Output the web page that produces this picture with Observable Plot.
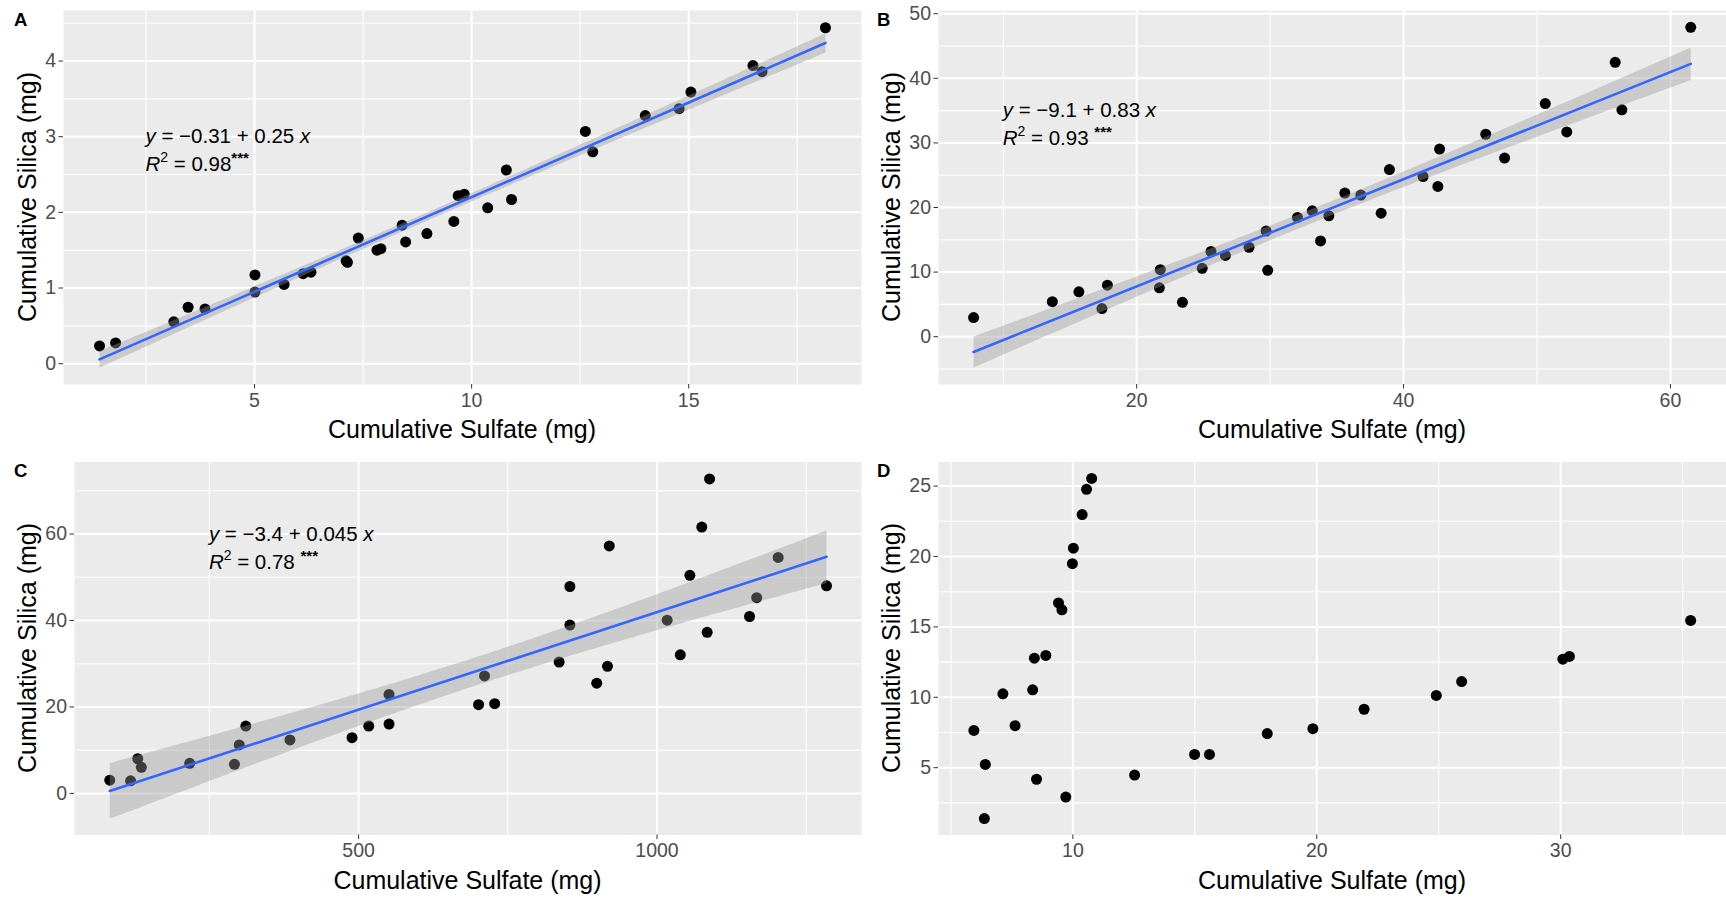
<!DOCTYPE html>
<html><head><meta charset="utf-8">
<script src="https://cdn.jsdelivr.net/npm/d3@7"></script>
<script src="https://cdn.jsdelivr.net/npm/@observablehq/plot@0.6"></script>
<style>
body{margin:0;background:#fff;}
#root{position:relative;width:1726px;height:898px;font-family:"Liberation Sans",Arial,sans-serif;}
.panel{position:absolute;width:863px;height:449px;}
</style></head><body><div id="root"></div>
<script>
// ---- Panel A ----
const aSulfate = [1.43,1.80,3.14,3.47,3.86,5.01,5.01,5.68,6.12,6.30,7.11,7.14,7.39,7.82,7.91,8.40,8.48,8.97,9.59,9.69,9.83,10.37,10.80,10.92,12.62,12.79,14.00,14.78,15.05,16.48,16.69,18.15];
const aSilica  = [0.235,0.275,0.554,0.746,0.724,0.947,1.173,1.047,1.19,1.21,1.36,1.34,1.66,1.50,1.52,1.83,1.61,1.72,1.88,2.22,2.24,2.06,2.56,2.17,3.07,2.80,3.28,3.37,3.59,3.94,3.86,4.44];
// ---- Panel B ----
const bSulfate = [7.78,13.68,15.67,17.40,17.81,21.70,21.77,23.43,24.91,25.57,26.65,28.42,29.70,29.82,32.05,33.16,33.78,34.40,35.60,36.80,38.32,38.94,41.46,42.57,42.70,46.16,47.57,50.62,52.23,55.86,56.36,61.52];
const bSilica  = [2.97,5.42,6.95,4.35,7.98,7.57,10.38,5.32,10.58,13.19,12.58,13.85,16.36,10.28,18.46,19.48,14.83,18.71,22.24,21.93,19.12,25.87,24.80,23.26,29.04,31.34,27.66,36.09,31.70,42.48,35.12,47.90];
// ---- Panel C ----
const cSulfate = [83,118,130,136,217,292,300,311,385,489,517,551,551,701,711,728,836,854,854,899,917,920,1017,1039,1055,1075,1084,1088,1155,1167,1203,1284];
const cSilica  = [3.05,2.90,8.02,6.03,6.95,6.72,11.22,15.57,12.37,12.90,15.57,16.03,22.90,20.53,27.18,20.76,30.38,38.93,47.86,25.50,29.39,57.25,40.08,32.06,50.46,61.60,37.25,72.75,40.92,45.27,54.58,48.02];
// ---- Panel D ----
const dSulfate = [5.94,6.41,6.37,7.13,7.63,8.35,8.42,8.51,8.89,9.41,9.55,9.71,9.98,10.02,10.38,10.56,10.77,12.53,14.99,15.60,17.97,19.84,21.94,24.90,25.94,30.09,30.36,35.33];
const dSilica  = [7.65,5.23,1.39,10.25,7.98,10.53,12.78,4.18,12.97,16.70,16.21,2.91,19.49,20.59,22.98,24.77,25.54,4.48,5.94,5.94,7.42,7.77,9.15,10.13,11.12,12.71,12.90,15.46];

// tick values
const aXTicks = [5,10,15], aYTicks = [0,1,2,3,4];
const bXTicks = [20,40,60], bYTicks = [0,10,20,30,40,50];
const cXTicks = [500,1000], cYTicks = [0,20,40,60];
const dXTicks = [10,20,30], dYTicks = [5,10,15,20,25];
const aXMinor = [2.5,7.5,12.5,17.5], aYMinor = [0.5,1.5,2.5,3.5,4.5];
const bXMinor = [10,30,50], bYMinor = [-5,5,15,25,35,45];
const cXMinor = [250,750,1250], cYMinor = [10,30,50,70];
const dXMinor = [5,15,25,35], dYMinor = [2.5,7.5,12.5,17.5,22.5];

// labels
const panelLetters = ["A","B","C","D"];
const xTitle = "Cumulative Sulfate (mg)";
const yTitle = "Cumulative Silica (mg)";
const eqTexts = ["\u22120.31 + 0.25", "\u22129.1 + 0.83", "\u22123.4 + 0.045"];
const r2Texts = ["0.98", "0.93", "0.78"];
const starSep = ["", " ", " "];
const eqX = [2.5, 10, 250];
const eqY = [3, 35, 60];

const layouts = [
  {left:0,   top:0,   ml:63, mr:2, mt:10,   mb:65,   xd:[0.6,18.98],  yd:[-0.275,4.668], ytx:35.5, xtb:437.5},
  {left:863, top:0,   ml:75, mr:0, mt:10,   mb:65,   xd:[5.15,64.2],  yd:[-7.4,50.5],    ytx:36.5, xtb:437.5},
  {left:0,   top:449, ml:74, mr:2, mt:12.5, mb:63.5, xd:[24,1342.6],  yd:[-9.62,76.66],  ytx:35.5, xtb:440},
  {left:863, top:449, ml:75, mr:0, mt:12.5, mb:63.5, xd:[4.49,36.8],  yd:[0.22,26.71],   ytx:36.5, xtb:440}
];
const series = [
  {x:aSulfate, y:aSilica, xt:aXTicks, yt:aYTicks, xm:aXMinor, ym:aYMinor, fit:true},
  {x:bSulfate, y:bSilica, xt:bXTicks, yt:bYTicks, xm:bXMinor, ym:bYMinor, fit:true},
  {x:cSulfate, y:cSilica, xt:cXTicks, yt:cYTicks, xm:cXMinor, ym:cYMinor, fit:true},
  {x:dSulfate, y:dSilica, xt:dXTicks, yt:dYTicks, xm:dXMinor, ym:dYMinor, fit:false}
];

const FONT = '"Liberation Sans", Arial, sans-serif';
const root = document.getElementById("root");

series.forEach((s, i) => {
  const L = layouts[i];
  const data = s.x.map((x, j) => ({x, y: s.y[j]}));
  const axisOpts = {tickSize: 4.5, fontSize: 19.5, fill: "#4D4D4D", stroke: "#333333", label: null, tickFormat: d => String(d)};
  const marks = [
    Plot.frame({fill: "#EBEBEB", stroke: "none"}),
    Plot.gridX(s.xm, {stroke: "white", strokeOpacity: 1, strokeWidth: 1.1}),
    Plot.gridY(s.ym, {stroke: "white", strokeOpacity: 1, strokeWidth: 1.1}),
    Plot.gridX(s.xt, {stroke: "white", strokeOpacity: 1, strokeWidth: 2}),
    Plot.gridY(s.yt, {stroke: "white", strokeOpacity: 1, strokeWidth: 2}),
    Plot.axisX(s.xt, {...axisOpts, tickPadding: 4}),
    Plot.axisY(s.yt, {...axisOpts, tickPadding: 3}),
    Plot.dot(data, {x: "x", y: "y", r: 5.5, fill: "black", stroke: "none"})
  ];
  if (s.fit) marks.push(Plot.linearRegressionY(data, {x: "x", y: "y", stroke: "#3366FF", strokeWidth: 2.6, fill: "#999999", fillOpacity: 0.4, ci: 0.95}));
  const plot = Plot.plot({
    width: 863, height: 449,
    marginLeft: L.ml, marginRight: L.mr, marginTop: L.mt, marginBottom: L.mb,
    x: {domain: L.xd, nice: false},
    y: {domain: L.yd, nice: false},
    style: {fontFamily: FONT, background: "transparent", overflow: "visible"},
    marks
  });
  const div = document.createElement("div");
  div.className = "panel";
  div.style.left = L.left + "px";
  div.style.top = L.top + "px";
  div.appendChild(plot);
  root.appendChild(div);

  const svg = d3.select(plot.tagName.toLowerCase() === "svg" ? plot : plot.querySelector("svg"));
  const top = L.mt, bottom = 449 - L.mb, left = L.ml, right = 863 - L.mr;
  // x title
  svg.append("text").attr("x", (left + right) / 2).attr("y", L.xtb)
    .attr("text-anchor", "middle").attr("font-size", 25).attr("fill", "black")
    .attr("font-family", FONT).text(xTitle);
  // y title
  svg.append("text").attr("transform", `translate(${L.ytx},${(top + bottom) / 2}) rotate(-90)`)
    .attr("text-anchor", "middle").attr("font-size", 25).attr("fill", "black")
    .attr("font-family", FONT).text(yTitle);
  // panel letter
  svg.append("text").attr("x", 14).attr("y", i < 2 ? 26 : 28).attr("text-anchor", "start")
    .attr("font-size", 18.5).attr("font-weight", "bold").attr("fill", "black")
    .attr("font-family", FONT).text(panelLetters[i]);
  // equation
  if (s.fit) {
    const px = plot.scale("x").apply(eqX[i]);
    const py = plot.scale("y").apply(eqY[i]) + 7;
    const t1 = svg.append("text").attr("x", px).attr("y", py).attr("text-anchor", "start").attr("font-size", 20.5).attr("fill", "black").attr("font-family", FONT);
    t1.append("tspan").attr("font-style", "italic").text("y");
    t1.append("tspan").text(" = " + eqTexts[i] + " ");
    t1.append("tspan").attr("font-style", "italic").text("x");
    const t2 = svg.append("text").attr("x", px).attr("y", py + 28).attr("text-anchor", "start").attr("font-size", 20.5).attr("fill", "black").attr("font-family", FONT);
    t2.append("tspan").attr("font-style", "italic").text("R");
    t2.append("tspan").attr("dy", -9).attr("font-size", 14).text("2");
    t2.append("tspan").attr("dy", 9).text(" = " + r2Texts[i] + starSep[i]);
    t2.append("tspan").attr("dy", -8).attr("font-size", 15).attr("font-weight", "bold").text("***");
  }
});
</script></body></html>
